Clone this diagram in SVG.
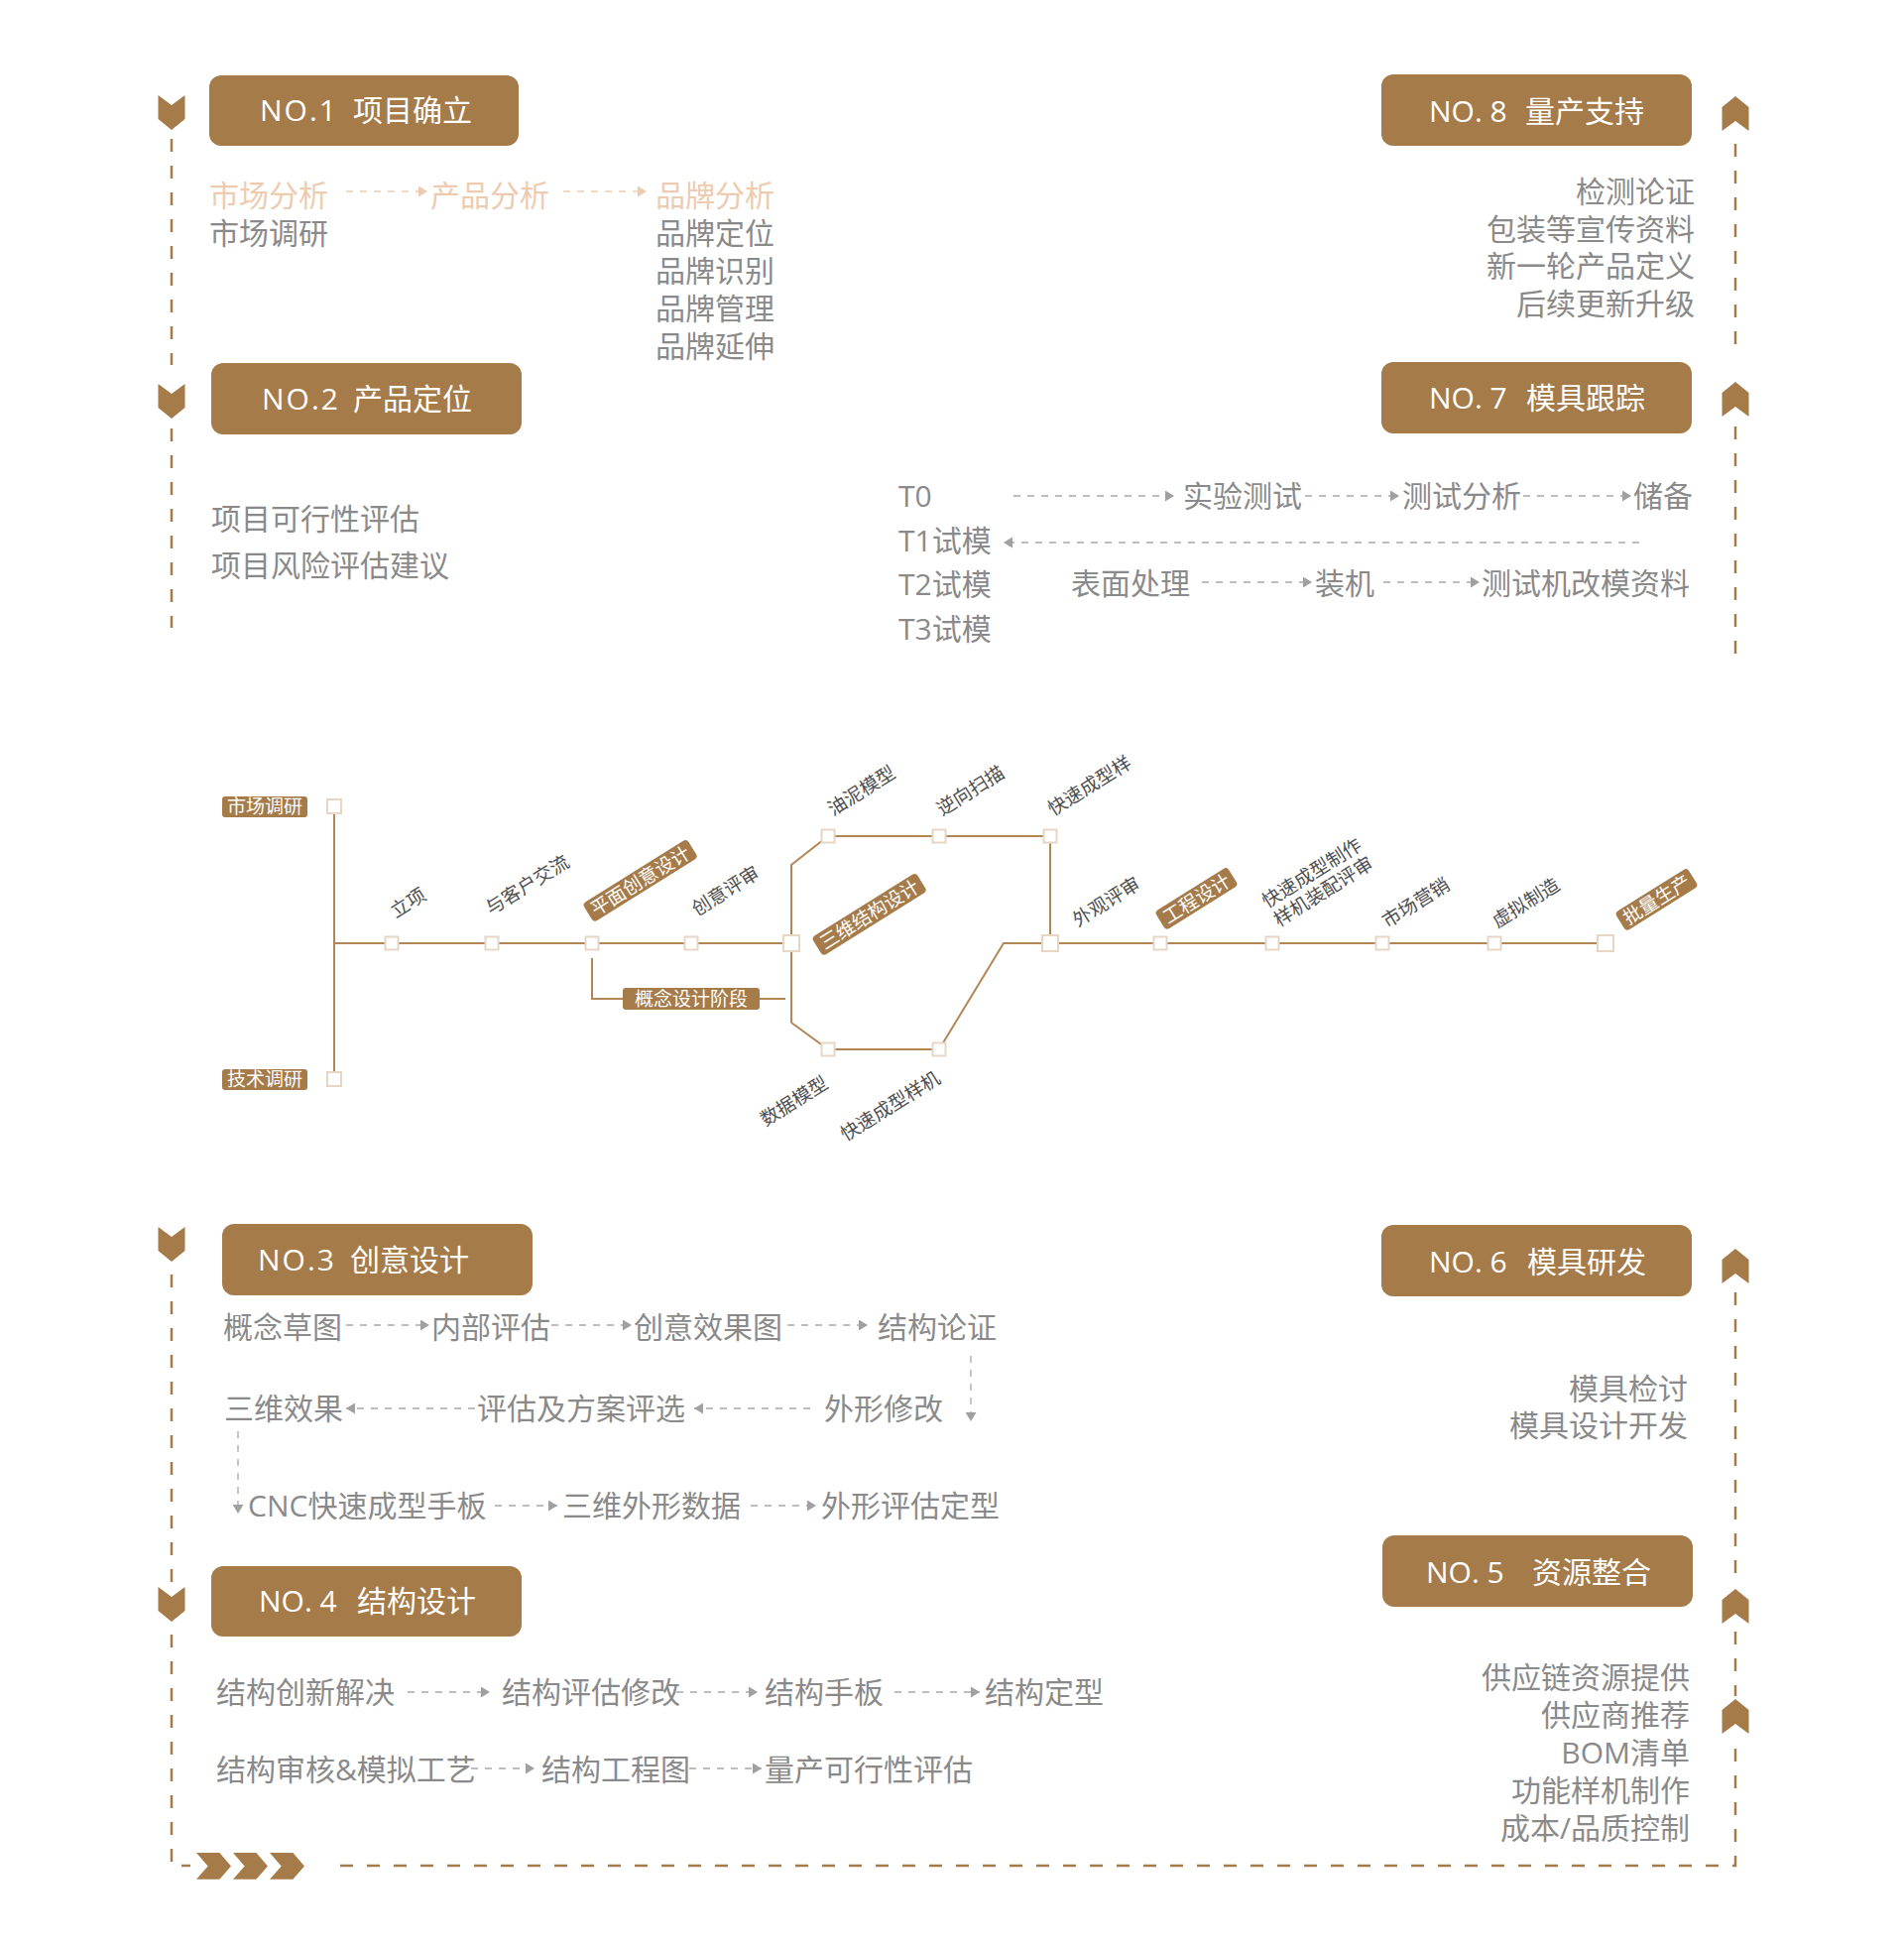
<svg xmlns="http://www.w3.org/2000/svg" width="1920" height="1962" viewBox="0 0 1920 1962">
<style>
.bg{fill:#fff}
.box{fill:#A67B4A}
.title{font-family:"Open Sans","Noto Sans CJK SC",sans-serif;font-size:30px;fill:#fff}
.ls{letter-spacing:2px}
.t{font-family:"Open Sans","Noto Sans CJK SC",sans-serif;font-size:30px;fill:#8a8a8a}
.pe{fill:#EDCBB0}
.end{text-anchor:end}
.frame{stroke:#A67B4A;stroke-width:2.5;stroke-dasharray:13 14;fill:none}
.chev{fill:#A67B4A}
.arr{stroke:#a8a8a8;stroke-width:1.3;stroke-dasharray:7 7;fill:none;marker-end:url(#ah)}
.arrp{stroke:#EDCBB0;stroke-width:1.5;stroke-dasharray:7 7;fill:none;marker-end:url(#ahp)}
.tl{stroke:#B38755;stroke-width:2;fill:none}
.sq{fill:#fff;stroke:#E8D6C4;stroke-width:2}
.lbl{font-family:"Noto Sans CJK SC",sans-serif;font-size:19px;fill:#4f4f4f}
.bl{fill:#A67B4A}
.blt{font-family:"Noto Sans CJK SC",sans-serif;font-size:19px;fill:#fff}
.mid{text-anchor:middle}
</style>
<defs>
<marker id="ah" markerWidth="9" markerHeight="11" refX="9" refY="5.5" orient="auto" markerUnits="userSpaceOnUse"><path d="M0,0 L9,5.5 L0,11 z" fill="#a0a0a0"/></marker>
<marker id="ahp" markerWidth="9" markerHeight="11" refX="9" refY="5.5" orient="auto" markerUnits="userSpaceOnUse"><path d="M0,0 L9,5.5 L0,11 z" fill="#EDCBB0"/></marker>
<path id="chevDown" d="M-13.5,0 L0,10 L13.5,0 L13.5,24 L0,35 L-13.5,24 z"/>
<path id="chevUp" d="M0,0 L13.5,11 L13.5,35 L0,25 L-13.5,35 L-13.5,11 z"/>
<path id="chevRight" d="M0,0 L23.4,0 L35,13.4 L23.4,26.7 L0,26.7 L11.7,13.4 z"/>
</defs>
<rect class="bg" x="0" y="0" width="1920" height="1962"/>

<g id="frame">
<path class="frame" d="M173,140 V368"/>
<path class="frame" d="M173,432 V633"/>
<path class="frame" d="M173,1285 V1597"/>
<path class="frame" d="M173,1648 V1881 H192"/>
<path class="frame" d="M343,1881 H1750 V1752"/>
<path class="frame" d="M1750,145 V360"/>
<path class="frame" d="M1750,430 V667"/>
<path class="frame" d="M1750,1303 V1597"/>
<path class="frame" d="M1750,1645 V1710"/>
<use href="#chevDown" class="chev" x="173" y="96"/>
<use href="#chevDown" class="chev" x="173" y="387"/>
<use href="#chevDown" class="chev" x="173" y="1237"/>
<use href="#chevDown" class="chev" x="173" y="1600"/>
<use href="#chevUp" class="chev" x="1750" y="97"/>
<use href="#chevUp" class="chev" x="1750" y="385"/>
<use href="#chevUp" class="chev" x="1750" y="1259"/>
<use href="#chevUp" class="chev" x="1750" y="1602"/>
<use href="#chevUp" class="chev" x="1750" y="1713"/>
<use href="#chevRight" class="chev" x="198" y="1868"/>
<use href="#chevRight" class="chev" x="235" y="1868"/>
<use href="#chevRight" class="chev" x="272" y="1868"/>
</g>

<g id="connectors">
<line class="arrp" x1="349" y1="193" x2="431" y2="193"/>
<line class="arrp" x1="568" y1="193" x2="652" y2="193"/>
<line class="arr" x1="1022" y1="500" x2="1184" y2="500"/>
<line class="arr" x1="1316" y1="500" x2="1411" y2="500"/>
<line class="arr" x1="1536" y1="500" x2="1645" y2="500"/>
<line class="arr" x1="1653" y1="547" x2="1012" y2="547"/>
<line class="arr" x1="1212" y1="587" x2="1323" y2="587"/>
<line class="arr" x1="1395" y1="587" x2="1492" y2="587"/>
<line class="arr" x1="349" y1="1336" x2="433" y2="1336"/>
<line class="arr" x1="556" y1="1336" x2="637" y2="1336"/>
<line class="arr" x1="794" y1="1336" x2="875" y2="1336"/>
<line class="arr" x1="979" y1="1367" x2="979" y2="1433"/>
<line class="arr" x1="817" y1="1420" x2="700" y2="1420"/>
<line class="arr" x1="479" y1="1420" x2="349" y2="1420"/>
<line class="arr" x1="240" y1="1443" x2="240" y2="1526"/>
<line class="arr" x1="499" y1="1518" x2="562" y2="1518"/>
<line class="arr" x1="757" y1="1518" x2="823" y2="1518"/>
<line class="arr" x1="411" y1="1706" x2="494" y2="1706"/>
<line class="arr" x1="682" y1="1706" x2="764" y2="1706"/>
<line class="arr" x1="902" y1="1706" x2="988" y2="1706"/>
<line class="arr" x1="475" y1="1783" x2="539" y2="1783"/>
<line class="arr" x1="695" y1="1783" x2="768" y2="1783"/>
<path class="tl" d="M337,813 V1088"/>
<path class="tl" d="M337,951 H798"/>
<path class="tl" d="M798,1031 V872 L835,843 H1059 V951"/>
<path class="tl" d="M798,1031 L835,1058 H947 L1012,951 H1619"/>
<path class="tl" d="M597,966 V1007 H628"/>
<path class="tl" d="M766,1007 H792"/>
</g>

<g id="no1">
<rect class="box" x="211" y="76" width="312" height="71" rx="12"/>
<text class="title" x="262" y="122"><tspan class="ls">NO.1</tspan><tspan x="356">项目确立</tspan></text>
<text class="t pe" x="211" y="208">市场分析</text>
<text class="t pe" x="434" y="208">产品分析</text>
<text class="t pe" x="661" y="208">品牌分析</text>
<text class="t" x="211" y="246">市场调研</text>
<text class="t" x="661" y="246">品牌定位</text>
<text class="t" x="661" y="284">品牌识别</text>
<text class="t" x="661" y="322">品牌管理</text>
<text class="t" x="661" y="360">品牌延伸</text>
</g>

<g id="no2">
<rect class="box" x="213" y="366" width="313" height="72" rx="12"/>
<text class="title" x="264" y="413"><tspan class="ls">NO.2</tspan><tspan x="356">产品定位</tspan></text>
<text class="t" x="213" y="534">项目可行性评估</text>
<text class="t" x="213" y="581">项目风险评估建议</text>
</g>

<g id="no8">
<rect class="box" x="1393" y="75" width="313" height="72" rx="12"/>
<text class="title" x="1441" y="123">NO. 8<tspan x="1538">量产支持</tspan></text>
<text class="t end" x="1709" y="204">检测论证</text>
<text class="t end" x="1709" y="242">包装等宣传资料</text>
<text class="t end" x="1709" y="279">新一轮产品定义</text>
<text class="t end" x="1709" y="317">后续更新升级</text>
</g>

<g id="no7">
<rect class="box" x="1393" y="365" width="313" height="72" rx="12"/>
<text class="title" x="1441" y="412">NO. 7<tspan x="1539">模具跟踪</tspan></text>
<text class="t" x="906" y="511">T0</text>
<text class="t" x="1193" y="511">实验测试</text>
<text class="t" x="1414" y="511">测试分析</text>
<text class="t" x="1647" y="511">储备</text>
<text class="t" x="906" y="556">T1试模</text>
<text class="t" x="906" y="600">T2试模</text>
<text class="t" x="1080" y="599">表面处理</text>
<text class="t" x="1326" y="599">装机</text>
<text class="t" x="1494" y="599">测试机改模资料</text>
<text class="t" x="906" y="645">T3试模</text>
</g>

<g id="no3">
<rect class="box" x="224" y="1234" width="313" height="72" rx="12"/>
<text class="title" x="260" y="1281"><tspan class="ls">NO.3</tspan><tspan x="353">创意设计</tspan></text>
<text class="t" x="225" y="1349">概念草图</text>
<text class="t" x="435" y="1349">内部评估</text>
<text class="t" x="639" y="1349">创意效果图</text>
<text class="t" x="885" y="1349">结构论证</text>
<text class="t" x="226" y="1431">三维效果</text>
<text class="t" x="481" y="1431">评估及方案评选</text>
<text class="t" x="831" y="1431">外形修改</text>
<text class="t" x="250" y="1529">CNC快速成型手板</text>
<text class="t" x="567" y="1529">三维外形数据</text>
<text class="t" x="828" y="1529">外形评估定型</text>
</g>

<g id="no4">
<rect class="box" x="213" y="1579" width="313" height="71" rx="12"/>
<text class="title" x="261" y="1625">NO. 4<tspan x="360">结构设计</tspan></text>
<text class="t" x="218" y="1717">结构创新解决</text>
<text class="t" x="506" y="1717">结构评估修改</text>
<text class="t" x="771" y="1717">结构手板</text>
<text class="t" x="993" y="1717">结构定型</text>
<text class="t" x="218" y="1795">结构审核&amp;模拟工艺</text>
<text class="t" x="546" y="1795">结构工程图</text>
<text class="t" x="771" y="1795">量产可行性评估</text>
</g>

<g id="no6">
<rect class="box" x="1393" y="1235" width="313" height="72" rx="12"/>
<text class="title" x="1441" y="1283">NO. 6<tspan x="1540">模具研发</tspan></text>
<text class="t end" x="1702" y="1411">模具检讨</text>
<text class="t end" x="1702" y="1448">模具设计开发</text>
</g>

<g id="no5">
<rect class="box" x="1394" y="1548" width="313" height="72" rx="12"/>
<text class="title" x="1438" y="1596">NO. 5<tspan x="1545">资源整合</tspan></text>
<text class="t end" x="1704" y="1702">供应链资源提供</text>
<text class="t end" x="1704" y="1740">供应商推荐</text>
<text class="t end" x="1704" y="1778">BOM清单</text>
<text class="t end" x="1704" y="1816">功能样机制作</text>
<text class="t end" x="1704" y="1854">成本/品质控制</text>
</g>

<g id="timeline-nodes">
<g id="n-market"><rect class="bl" x="224" y="803" width="86" height="21" rx="3"/><text class="blt mid" x="267" y="820">市场调研</text><rect class="sq" x="330" y="806" width="14" height="14"/></g>
<g id="n-tech"><rect class="bl" x="224" y="1078" width="86" height="21" rx="3"/><text class="blt mid" x="267" y="1095">技术调研</text><rect class="sq" x="330" y="1081" width="14" height="14"/></g>
<g id="n-lixiang"><rect class="sq" x="388.5" y="944.5" width="13" height="13"/><text class="lbl" transform="translate(399,926) rotate(-32)">立项</text></g>
<g id="n-kehu"><rect class="sq" x="489.5" y="944.5" width="13" height="13"/><text class="lbl" transform="translate(495,923) rotate(-32)">与客户交流</text></g>
<g id="n-pingmian"><rect class="sq" x="590.5" y="944.5" width="13" height="13"/><g transform="translate(601,924) rotate(-32)"><rect class="bl" x="-5" y="-18" width="124" height="22" rx="4"/><text class="blt" x="0" y="0">平面创意设计</text></g></g>
<g id="n-chuangyi"><rect class="sq" x="690.5" y="944.5" width="13" height="13"/><text class="lbl" transform="translate(703,924) rotate(-32)">创意评审</text></g>
<g id="n-gainian"><rect class="bl" x="628" y="996" width="138" height="22" rx="3"/><text class="blt mid" x="697" y="1014">概念设计阶段</text></g>
<g id="n-sanwei"><rect class="sq" x="790" y="943" width="16" height="16"/><g transform="translate(832,958) rotate(-32)"><rect class="bl" x="-5" y="-18" width="124" height="22" rx="4"/><text class="blt" x="0" y="0">三维结构设计</text></g></g>
<g id="n-youni"><rect class="sq" x="828.5" y="836.5" width="13" height="13"/><text class="lbl" transform="translate(840,823) rotate(-32)">油泥模型</text></g>
<g id="n-nixiang"><rect class="sq" x="940.5" y="836.5" width="13" height="13"/><text class="lbl" transform="translate(950,823) rotate(-32)">逆向扫描</text></g>
<g id="n-kuaisu1"><rect class="sq" x="1052.5" y="836.5" width="13" height="13"/><text class="lbl" transform="translate(1062,823) rotate(-32)">快速成型样</text></g>
<g id="n-shuju"><rect class="sq" x="828.5" y="1051.5" width="13" height="13"/><text class="lbl" transform="translate(772,1136) rotate(-32)">数据模型</text></g>
<g id="n-kuaisu2"><rect class="sq" x="940.5" y="1051.5" width="13" height="13"/><text class="lbl" transform="translate(853,1151) rotate(-32)">快速成型样机</text></g>
<g id="n-waiguan"><rect class="sq" x="1051" y="943" width="16" height="16"/><text class="lbl" transform="translate(1087,935) rotate(-32)">外观评审</text></g>
<g id="n-gongcheng"><rect class="sq" x="1163.5" y="944.5" width="13" height="13"/><g transform="translate(1178,932) rotate(-32)"><rect class="bl" x="-5" y="-18" width="86" height="22" rx="4"/><text class="blt" x="0" y="0">工程设计</text></g></g>
<g id="n-yangji"><rect class="sq" x="1276.5" y="944.5" width="13" height="13"/><text class="lbl" transform="translate(1278,916) rotate(-32)">快速成型制作<tspan x="0" y="22">样机装配评审</tspan></text></g>
<g id="n-yingxiao"><rect class="sq" x="1387.5" y="944.5" width="13" height="13"/><text class="lbl" transform="translate(1399,936) rotate(-32)">市场营销</text></g>
<g id="n-xuni"><rect class="sq" x="1500.5" y="944.5" width="13" height="13"/><text class="lbl" transform="translate(1510,936) rotate(-32)">虚拟制造</text></g>
<g id="n-piliang"><rect class="sq" x="1611" y="943" width="16" height="16"/><g transform="translate(1642,933) rotate(-32)"><rect class="bl" x="-5" y="-18" width="86" height="22" rx="4"/><text class="blt" x="0" y="0">批量生产</text></g></g>
</g>
</svg>
